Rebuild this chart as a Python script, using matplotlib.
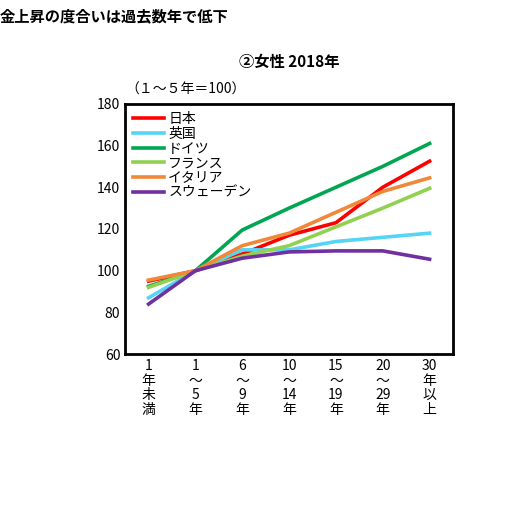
import matplotlib
matplotlib.use("Agg")
import matplotlib.pyplot as plt

plt.rcParams["font.family"] = ["Noto Sans CJK JP", "DejaVu Sans"]

categories = ["1\n年\n未\n満", "1\n～\n5\n年", "6\n～\n9\n年", "10\n～\n14\n年",
              "15\n～\n19\n年", "20\n～\n29\n年", "30\n年\n以\n上"]
japan = [95, 100, 108, 117, 123, 140, 152.5]
uk = [87, 100, 110, 110, 114, 116, 118]
germany = [92.5, 100, 119.5, 130, 140, 150, 161]
france = [92, 100, 107, 112, 121, 130, 139.5]
italy = [95.5, 100, 112, 118, 128, 138, 144.5]
sweden = [84, 100, 106, 109, 109.5, 109.5, 105.5]

series = [("日本", japan, "#ff0000"), ("英国", uk, "#55d4f5"),
          ("ドイツ", germany, "#00a651"), ("フランス", france, "#92d050"),
          ("イタリア", italy, "#f0883a"), ("スウェーデン", sweden, "#7030a0")]

fig = plt.figure(figsize=(5.28, 5.14), dpi=100)
ax = fig.add_axes([0.237, 0.311, 0.621, 0.487])
x = list(range(len(categories)))
for name, vals, col in series:
    ax.plot(x, vals, color=col, lw=2.6, label=name)

ax.set_ylim(60, 180)
ax.set_yticks(range(60, 181, 20))
ax.set_xlim(-0.5, 6.5)
ax.set_xticks(x)
ax.set_xticklabels(categories, fontsize=10, linespacing=1.05)
ax.tick_params(length=0, labelsize=10)
for s in ax.spines.values():
    s.set_linewidth(2)
ax.legend(loc="upper left", frameon=False, fontsize=10, handlelength=2.2,
          labelspacing=0.05, borderaxespad=0.2, handletextpad=0.3)

fig.text(0.0, 0.985, "金上昇の度合いは過去数年で低下", fontsize=11, fontweight="bold", va="top")
fig.text(0.548, 0.88, "②女性 2018年", fontsize=11, fontweight="bold", ha="center", va="center")
fig.text(0.237, 0.825, "（１～５年＝100）", fontsize=10, va="center")

fig.savefig("out.png", dpi=100, facecolor="white")
